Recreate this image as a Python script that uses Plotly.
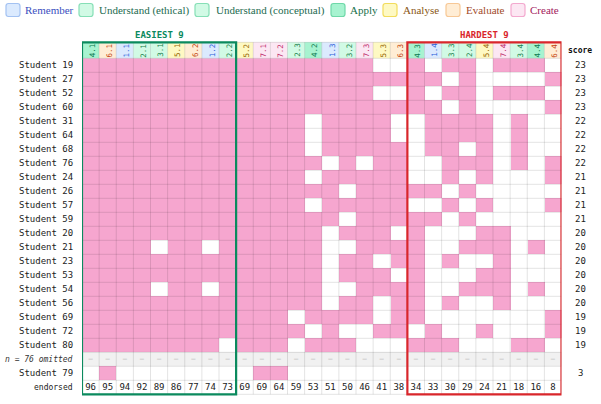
import plotly.graph_objects as go

W, H = 601, 404

# ---------------- data ----------------
items = ["4.1", "6.1", "1.1", "2.1", "3.1", "5.1", "6.2", "1.2", "2.2",
         "5.2", "7.1", "7.2", "2.3", "4.2", "1.3", "3.2", "7.3", "5.3", "6.3",
         "4.3", "1.4", "3.3", "2.4", "5.4", "7.4", "3.4", "4.4", "6.4"]
endorsed = [96, 95, 94, 92, 89, 86, 77, 74, 73,
            69, 69, 64, 59, 53, 51, 50, 46, 41, 38,
            34, 33, 30, 29, 24, 21, 18, 16, 8]
students = ["Student 19", "Student 27", "Student 52", "Student 60", "Student 31",
            "Student 64", "Student 68", "Student 76", "Student 24", "Student 26",
            "Student 57", "Student 59", "Student 20", "Student 21", "Student 23",
            "Student 53", "Student 54", "Student 56", "Student 69", "Student 72",
            "Student 80"]
scores = [23, 23, 23, 23, 22, 22, 22, 22, 21, 21, 21, 21, 20, 20, 20, 20, 20, 20, 19, 19, 19]
responses = [
    "1111111111111111100101101110",  # 19
    "1111111111111111111110100001",  # 27
    "1111111111111111100101101110",  # 52
    "1111111111111111111110100001",  # 60
    "1111111111111011110011110100",  # 31
    "1111111111111011110011110100",  # 64
    "1111111111111011111011010100",  # 68
    "1111111111111101011001110101",  # 76
    "1111111111111011111001010001",  # 24
    "1111111111111110111110100000",  # 26
    "1111111111111011111001010001",  # 57
    "1111111111111110111110100000",  # 59
    "1111111111111101110100011000",  # 20
    "1111011011111100111100111010",  # 21
    "1111111111111101101101001000",  # 23
    "1111111111111101110100011000",  # 53
    "1111011011111100111100111010",  # 54
    "1111111111111101101101001000",  # 56
    "1111111111110111101100000001",  # 69
    "1111111111111010011010010001",  # 72
    "1111111101110111000111000110",  # 80
]
omitted_label = "n = 76 omitted"
extra_student = "Student 79"
extra_score = 3
extra_response = "0100000000110000000000000000"
legend_names = ["Remember", "Understand (ethical)", "Understand (conceptual)",
                "Apply", "Analyse", "Evaluate", "Create"]
level_of_prefix = {"1": 0, "2": 1, "3": 2, "4": 3, "5": 4, "6": 5, "7": 6}

# ---------------- styles ----------------
MONO = "DejaVu Sans Mono"
SERIF = "Liberation Serif"
PINK = "#f6a6cf"
GREEN = "#0b8a5e"
RED = "#d9262b"
fills = ["#dbeafe", "#d1fae5", "#d1fae5", "#a7f3d0", "#fef9c3", "#ffedd5", "#fce7f3"]
borders = ["#a3c2f2", "#86dfb6", "#86dfb6", "#6fd8a8", "#f2dc5c", "#f7c896", "#f3a9cf"]
leg_text = ["#3a4fc0", "#1d6b50", "#1d6b50", "#17704a", "#8a5614", "#a24a2a", "#a3215c"]
hdr_text = ["#2b5fd9", "#16804a", "#16804a", "#0b7a50", "#9a6a0a", "#c2410c", "#be2a6a"]
leg_box_x = [6, 79, 195, 331, 383, 446, 511]
leg_text_x = [23, 97, 214, 348, 401, 464, 528]

ROW_TOP_PX = 58.3
ROW_PX = 14.0
plot_top_px, plot_bot_px = 24.3, 400.3
x_left_px, x_right_px = 82.0, 561.5
ncol = len(items)
nrow = len(students)


def y_of_px(py):
    return -0.5 + (py - ROW_TOP_PX) / ROW_PX


HDR_TOP = y_of_px(42.3)
ROW_OMIT = nrow
ROW_EXTRA = nrow + 1
ROW_END = nrow + 2
Y_MIN, Y_MAX = y_of_px(plot_top_px), y_of_px(plot_bot_px)

# ---------------- matrix ----------------
z = []
for r in responses:
    z.append([0.5 if c == "1" else 0.0 for c in r])
z.append([1.0] * ncol)
z.append([0.5 if c == "1" else 0.0 for c in extra_response])
z.append([0.0] * ncol)

fig = go.Figure()
fig.add_trace(go.Heatmap(
    z=z, x=list(range(ncol)), y=list(range(len(z))),
    colorscale=[[0, "#ffffff"], [0.5, PINK], [1, "#f1f1f1"]],
    zmin=0, zmax=1, showscale=False, hoverinfo="skip"))

fig.add_trace(go.Scatter(
    x=list(range(ncol)), y=[ROW_END] * ncol, mode="text",
    text=[str(v) for v in endorsed],
    textfont=dict(family=MONO, size=9, color="#222"),
    hoverinfo="skip", cliponaxis=False, showlegend=False))
fig.add_trace(go.Scatter(
    x=list(range(ncol)), y=[ROW_OMIT] * ncol, mode="text",
    text=["–"] * ncol,
    textfont=dict(family=MONO, size=7, color="#a8a8a8"),
    hoverinfo="skip", cliponaxis=False, showlegend=False))

shapes = []
ann = []

# header cells
for i, it in enumerate(items):
    lv = level_of_prefix[it.split(".")[0]]
    shapes.append(dict(type="rect", xref="x", yref="y", x0=i - 0.5, x1=i + 0.5,
                       y0=HDR_TOP, y1=-0.5, fillcolor=fills[lv], line=dict(width=0),
                       layer="above"))
    ann.append(dict(x=i, y=(HDR_TOP - 0.5) / 2, xref="x", yref="y", text=it,
                    textangle=-90, showarrow=False, xshift=1.5,
                    font=dict(family=MONO, size=7.5, color=hdr_text[lv])))

# grid lines
GL = "rgba(0,0,0,0.11)"
for i in range(ncol + 1):
    shapes.append(dict(type="line", xref="x", yref="y", x0=i - 0.5, x1=i - 0.5,
                       y0=HDR_TOP, y1=ROW_END + 0.5, line=dict(color=GL, width=1),
                       layer="above"))
for k in [HDR_TOP] + [j - 0.5 for j in range(ROW_END + 2)]:
    shapes.append(dict(type="line", xref="x", yref="y", x0=-0.5, x1=ncol - 0.5,
                       y0=k, y1=k, line=dict(color=GL, width=1), layer="above"))

# highlight boxes
shapes.append(dict(type="rect", xref="x", yref="y", x0=-0.5, x1=8.5,
                   y0=HDR_TOP, y1=ROW_END + 0.5, line=dict(color=GREEN, width=2.2),
                   layer="above"))
shapes.append(dict(type="rect", xref="x", yref="y", x0=18.5, x1=ncol - 0.5,
                   y0=HDR_TOP, y1=ROW_END + 0.5, line=dict(color=RED, width=2.2),
                   layer="above"))
ytitle = y_of_px(35)
ann.append(dict(x=4, y=ytitle, xref="x", yref="y", text="<b>EASIEST 9</b>",
                showarrow=False, font=dict(family=MONO, size=9, color=GREEN)))
ann.append(dict(x=23, y=ytitle, xref="x", yref="y", text="<b>HARDEST 9</b>",
                showarrow=False, font=dict(family=MONO, size=9, color=RED)))

# row labels and scores
SCORE_X = 580 / W
for r, (s, sc) in enumerate(zip(students, scores)):
    ann.append(dict(x=-0.5, y=r, xref="x", yref="y", text=s, xanchor="right",
                    xshift=-7, showarrow=False,
                    font=dict(family=MONO, size=9, color="#222")))
    ann.append(dict(x=SCORE_X, y=r, xref="paper", yref="y", text=str(sc),
                    xanchor="center", showarrow=False,
                    font=dict(family=MONO, size=9, color="#222")))
ann.append(dict(x=-0.5, y=ROW_OMIT, xref="x", yref="y", text="<i>" + omitted_label + "</i>",
                xanchor="right", xshift=-7, showarrow=False,
                font=dict(family=MONO, size=8, color="#333")))
ann.append(dict(x=-0.5, y=ROW_EXTRA, xref="x", yref="y", text=extra_student,
                xanchor="right", xshift=-7, showarrow=False,
                font=dict(family=MONO, size=9, color="#222")))
ann.append(dict(x=SCORE_X, y=ROW_EXTRA, xref="paper", yref="y", text=str(extra_score),
                xanchor="center", showarrow=False,
                font=dict(family=MONO, size=9, color="#222")))
ann.append(dict(x=-0.5, y=ROW_END, xref="x", yref="y", text="endorsed",
                xanchor="right", xshift=-7, showarrow=False,
                font=dict(family=MONO, size=8, color="#222")))
ann.append(dict(x=SCORE_X, y=(HDR_TOP - 0.5) / 2, xref="paper", yref="y", text="<b>score</b>",
                xanchor="center", showarrow=False,
                font=dict(family=MONO, size=8, color="#111")))


# legend
def px(x):
    return x / W


def py(y):
    return 1 - y / H


def rrect(x0, y0, x1, y1, r):
    pts = [
        ("M", x0 + r, y0), ("L", x1 - r, y0), ("Q", x1, y0, x1, y0 + r),
        ("L", x1, y1 - r), ("Q", x1, y1, x1 - r, y1), ("L", x0 + r, y1),
        ("Q", x0, y1, x0, y1 - r), ("L", x0, y0 + r), ("Q", x0, y0, x0 + r, y0)]
    out = []
    for p in pts:
        cmd = p[0]
        coords = p[1:]
        cs = []
        for j in range(0, len(coords), 2):
            cs.append(f"{px(coords[j]):.5f},{py(coords[j + 1]):.5f}")
        out.append(cmd + " ".join(cs))
    return " ".join(out) + " Z"


for k, name in enumerate(legend_names):
    bx = leg_box_x[k]
    shapes.append(dict(type="path", xref="paper", yref="paper",
                       path=rrect(bx, 3.5, bx + 14, 16.5, 2.5),
                       fillcolor=fills[k], line=dict(color=borders[k], width=1.2)))
    ann.append(dict(x=px(leg_text_x[k]), y=py(10), xref="paper", yref="paper",
                    text=name, xanchor="left", yanchor="middle", showarrow=False,
                    font=dict(family=SERIF, size=11, color=leg_text[k])))

fig.update_layout(
    width=W, height=H,
    margin=dict(l=0, r=0, t=0, b=0),
    paper_bgcolor="white", plot_bgcolor="white",
    shapes=shapes, annotations=ann, showlegend=False,
    xaxis=dict(domain=[x_left_px / W, x_right_px / W], range=[-0.5, ncol - 0.5],
               visible=False, fixedrange=True),
    yaxis=dict(domain=[1 - plot_bot_px / H, 1 - plot_top_px / H], range=[Y_MAX, Y_MIN],
               visible=False, fixedrange=True),
)

fig.write_html("out.html")
